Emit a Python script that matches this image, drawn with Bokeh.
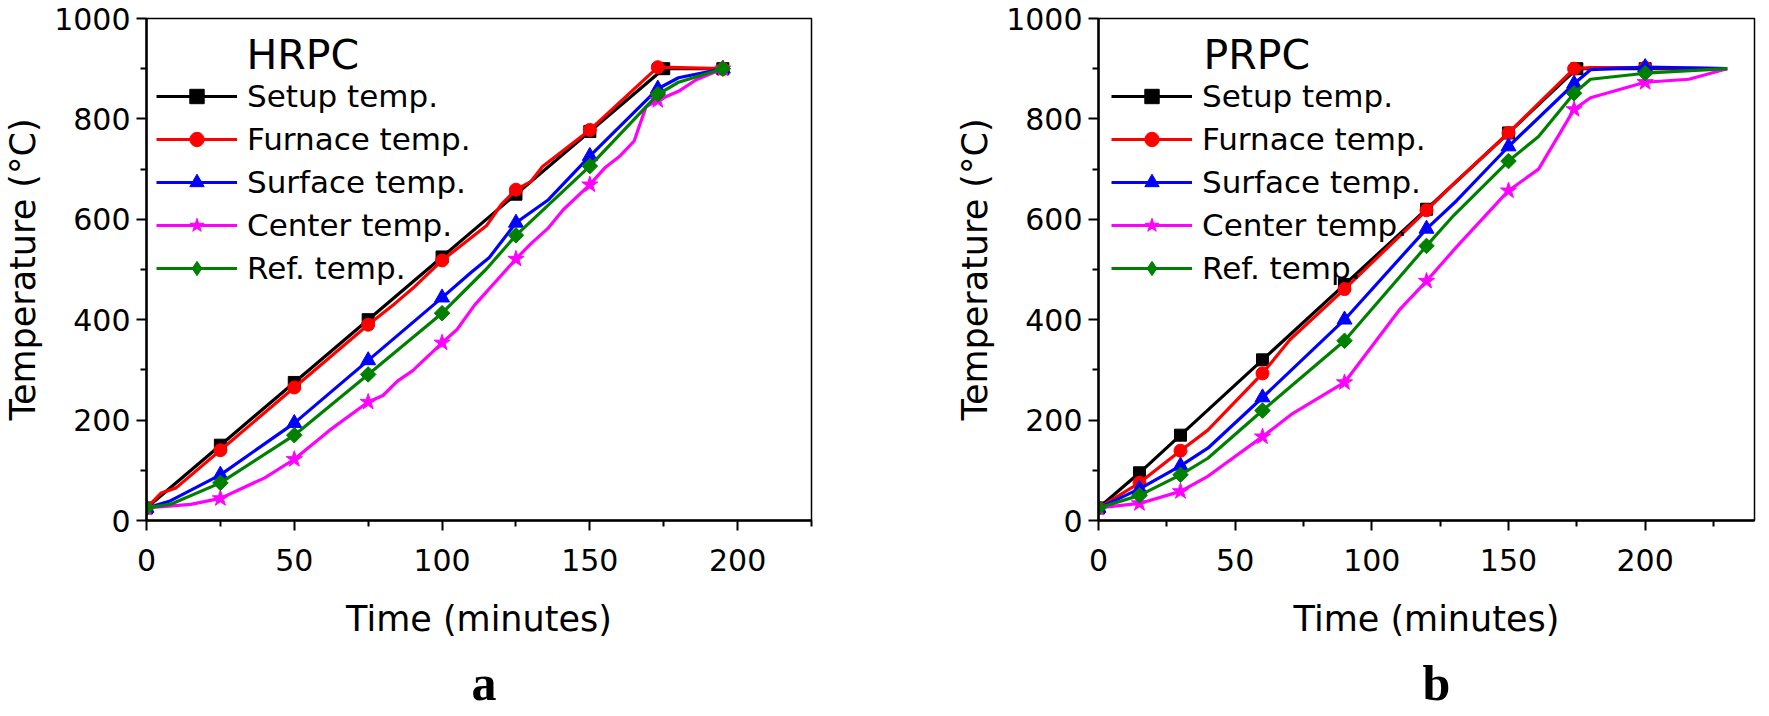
import math
from bokeh.plotting import figure
from bokeh.models import Range1d, FixedTicker, Legend, LegendItem, Label, Title
from bokeh.layouts import row
from bokeh.embed import file_html
from bokeh.resources import INLINE

# ---------------- data ----------------
series_names = ["Setup temp.", "Furnace temp.", "Surface temp.", "Center temp.", "Ref. temp."]
series_colors = ["#000000", "#FF0000", "#0000FF", "#FF00FF", "#008000"]
series_markers = ["square", "circle", "triangle", "star", "square"]
series_angles = [0, 0, 0, 0, math.pi / 4]
series_sizes = [12, 13, 15, 17, 11]
legend_markers = ["square", "circle", "triangle", "star", "diamond"]

x_major_ticks = [0, 50, 100, 150, 200]
x_minor_ticks = [25, 75, 125, 175, 225]
y_major_ticks = [0, 200, 400, 600, 800, 1000]
y_minor_ticks = [100, 300, 500, 700, 900]

# Panel a : HRPC
a_marker_t = [0, 25, 50, 75, 100, 125, 150, 173, 175, 195]
a_setup_t = [0, 25, 50, 75, 100, 125, 150, 175, 195]
a_setup_T = [25, 150, 275, 400, 525, 650, 775, 900, 900]
a_furnace_t = [0, 5, 10, 25, 50, 75, 84, 90, 100, 115, 120, 125, 130, 134, 150, 173, 195]
a_furnace_T = [25, 55, 65, 140, 265, 390, 432, 462, 518, 587, 629, 659, 675, 705, 778, 903, 900]
a_surface_t = [0, 8, 25, 50, 75, 100, 110, 116, 125, 136, 150, 173, 180, 195]
a_surface_T = [25, 39, 91, 194, 319, 444, 495, 524, 593, 639, 726, 860, 882, 900]
a_center_t = [0, 15, 25, 40, 50, 62, 75, 80, 85, 90, 100, 105, 111, 125, 130, 136, 141, 150,
              155, 160, 165, 169, 173, 180, 186, 195]
a_center_T = [25, 32, 44, 85, 122, 180, 236, 249, 278, 298, 354, 380, 429, 521, 551, 583, 619, 669,
              702, 725, 756, 824, 837, 855, 878, 900]
a_ref_t = [0, 8, 25, 50, 75, 100, 115, 125, 150, 173, 180, 195]
a_ref_T = [25, 32, 75, 170, 291, 413, 501, 568, 706, 849, 873, 900]

# Panel b : PRPC
b_marker_t = [0, 15, 30, 60, 90, 120, 150, 174, 175, 200]
b_setup_t = [0, 15, 30, 60, 90, 120, 150, 175, 200, 230]
b_setup_T = [25, 95, 170, 320, 470, 620, 772, 900, 900, 900]
b_furnace_t = [0, 15, 30, 40, 60, 70, 90, 120, 130, 150, 174, 180, 200, 230]
b_furnace_T = [25, 75, 139, 180, 293, 360, 461, 618, 671, 772, 900, 902, 902, 900]
b_surface_t = [0, 15, 30, 40, 60, 90, 120, 131, 150, 174, 180, 200, 230]
b_surface_T = [25, 63, 109, 144, 245, 400, 581, 637, 745, 870, 898, 903, 900]
b_center_t = [0, 15, 30, 40, 60, 71, 90, 110, 120, 131, 150, 161, 174, 180, 200, 216, 230]
b_center_T = [25, 34, 58, 88, 167, 213, 275, 419, 477, 545, 657, 700, 819, 842, 873, 879, 900]
b_ref_t = [0, 15, 30, 40, 60, 90, 120, 130, 150, 161, 174, 180, 200, 230]
b_ref_T = [25, 50, 91, 124, 219, 358, 547, 608, 716, 765, 851, 879, 891, 900]

FONT = "DejaVu Sans"


def make_panel(series, marker_t, x_max, title, letter, width, frame_width,
               border_left, border_right, legend_loc, title_x, letter_offset):
    p = figure(width=width, height=700, frame_width=frame_width, frame_height=502,
               x_range=Range1d(0, x_max), y_range=Range1d(0, 1000),
               output_backend="svg", toolbar_location=None,
               min_border_left=border_left, min_border_right=border_right,
               min_border_top=18, min_border_bottom=180)
    p.xgrid.visible = False
    p.ygrid.visible = False
    p.background_fill_color = "white"
    p.border_fill_color = "white"
    p.outline_line_color = "black"
    p.outline_line_width = 1.5

    p.xaxis.ticker = FixedTicker(ticks=x_major_ticks, minor_ticks=x_minor_ticks)
    p.yaxis.ticker = FixedTicker(ticks=y_major_ticks, minor_ticks=y_minor_ticks)
    for ax in (p.xaxis, p.yaxis):
        ax.axis_line_width = 2.5
        ax.major_tick_line_width = 2
        ax.minor_tick_line_width = 2
        ax.major_tick_in = 0
        ax.major_tick_out = 10
        ax.minor_tick_in = 0
        ax.minor_tick_out = 6
        ax.major_label_text_font = FONT
        ax.major_label_text_font_size = "30px"
        ax.major_label_text_color = "black"
        ax.axis_label_text_font = FONT
        ax.axis_label_text_font_style = "normal"
        ax.axis_label_text_font_size = "35px"
        ax.axis_label_text_color = "black"
    p.xaxis.axis_label = "Time (minutes)"
    p.yaxis.axis_label = "Temperature (°C)"
    p.xaxis.major_label_standoff = 18
    p.yaxis.major_label_standoff = 6
    p.xaxis.axis_label_standoff = 25
    p.yaxis.axis_label_standoff = 8

    items = []
    for (name, color, marker, lmarker, angle, size, (t, T)) in zip(
            series_names, series_colors, series_markers, legend_markers,
            series_angles, series_sizes, series):
        lr = p.line(t, T, line_color=color, line_width=3.2)
        mt = [ti for ti in t if ti in marker_t]
        mT = [Ti for ti, Ti in zip(t, T) if ti in marker_t]
        if lmarker != marker:
            # legend-shape marker, fully covered by the plotted (rotated) marker
            legend_r = p.scatter(mt, mT, marker=lmarker, size=size * 1.2,
                                 fill_color=color, line_color=color)
        sr = p.scatter(mt, mT, marker=marker, size=size, angle=angle,
                       fill_color=color, line_color=color)
        if lmarker != marker:
            items.append(LegendItem(label=name, renderers=[lr, legend_r]))
        else:
            items.append(LegendItem(label=name, renderers=[lr, sr]))

    legend = Legend(items=items, location=legend_loc, orientation="vertical",
                    glyph_width=81, glyph_height=36, label_height=36, spacing=7,
                    padding=0, margin=0, label_standoff=10,
                    label_text_font=FONT, label_text_font_size="31px",
                    label_text_color="black",
                    border_line_alpha=0, background_fill_alpha=0)
    p.add_layout(legend)

    p.add_layout(Label(x=title_x, y=466, x_units="screen", y_units="screen", text=title,
                       text_font=FONT, text_font_size="41px", text_align="left",
                       text_baseline="alphabetic", text_color="black"))
    p.add_layout(Title(text=letter, align="left", standoff=23, offset=letter_offset,
                       text_font="Liberation Serif", text_font_style="bold",
                       text_font_size="50px", text_color="black"), "below")
    return p


pa = make_panel([(a_setup_t, a_setup_T), (a_furnace_t, a_furnace_T), (a_surface_t, a_surface_T),
                 (a_center_t, a_center_T), (a_ref_t, a_ref_T)],
                a_marker_t, 225, "HRPC", "a", 892, 665, 142, 85, (10, 234), 100, 325)
pb = make_panel([(b_setup_t, b_setup_T), (b_furnace_t, b_furnace_T), (b_surface_t, b_surface_T),
                 (b_center_t, b_center_T), (b_ref_t, b_ref_T)],
                b_marker_t, 240, "PRPC", "b", 861, 656, 202, 3, (13, 234), 105, 324)

layout = row(pa, pb)
open("out.html", "w").write(file_html(layout, INLINE))
